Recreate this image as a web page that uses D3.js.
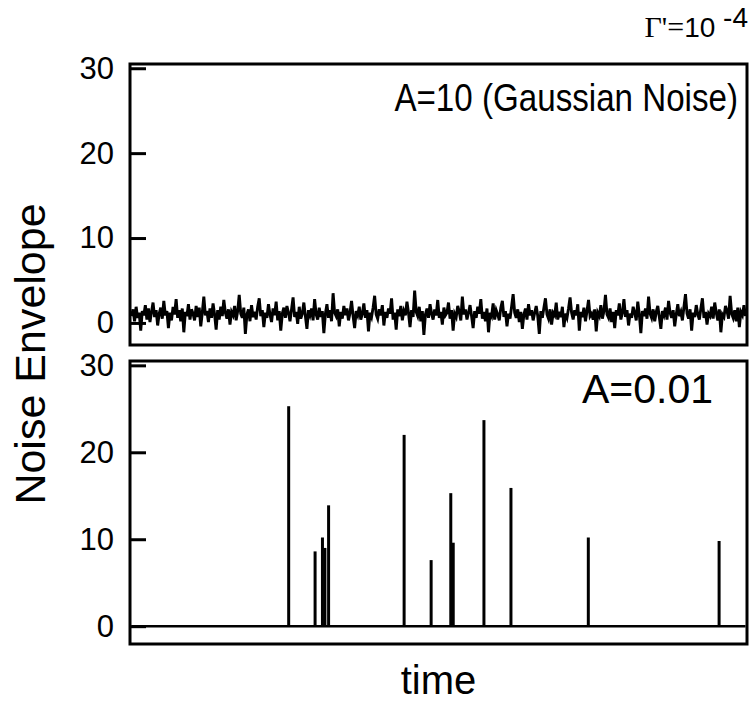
<!DOCTYPE html>
<html>
<head>
<meta charset="utf-8">
<script src="https://cdn.jsdelivr.net/npm/d3@7/dist/d3.min.js"></script>
<style>
  html, body { margin: 0; padding: 0; background: #fff; }
  svg { display: block; }
  text { font-family: "Liberation Sans", Arial, Helvetica, sans-serif; fill: #000; }
</style>
</head>
<body>
<svg id="chart" width="750" height="702"></svg>
<script>
// ---------------- DATA ----------------
const yTicks = [0, 10, 20, 30];

// Top panel: Gaussian-noise envelope trace (A = 10)
const noiseValues = [
  0.8,1.6,0.2,1.9,0.6,1.2,-0.9,1.4,0.9,2.1,0.4,1.7,0.1,1.3,2.4,0.7,1.5,-0.3,1.1,1.8,
  0.5,2.6,0.9,1.4,-0.6,1.2,0.3,1.9,1.0,2.8,0.6,1.5,0.2,1.7,-1.1,1.3,0.8,2.2,0.4,1.6,
  1.1,0.3,2.0,0.7,1.8,-0.4,1.2,3.1,0.9,1.4,0.1,1.7,0.6,2.3,1.0,-0.8,1.5,0.4,1.9,0.8,
  2.7,1.2,0.5,1.6,-0.2,1.3,0.9,2.0,0.3,1.4,3.3,1.1,0.6,1.8,-1.3,1.0,1.6,0.2,2.1,0.7,
  1.3,0.4,1.9,2.9,0.8,1.5,-0.5,1.2,0.6,2.2,1.0,0.1,1.7,0.9,2.5,0.3,1.4,-0.9,1.1,1.8,
  0.6,2.0,1.2,0.2,1.6,3.0,0.7,1.3,-0.1,1.9,0.5,1.1,2.4,0.8,-0.7,1.5,0.9,1.7,0.3,2.8,
  1.0,0.4,1.8,0.7,1.4,-1.2,1.1,2.2,0.6,1.5,0.2,3.5,1.2,0.8,1.6,-0.4,1.3,0.5,2.0,0.9,
  1.7,0.3,1.2,2.6,0.8,-0.6,1.4,0.9,1.9,0.4,1.1,2.3,0.6,1.5,-1.0,1.2,0.7,1.8,3.2,1.0,
  0.5,1.6,0.9,2.1,-0.3,1.3,0.6,1.7,1.1,2.9,0.4,1.2,-0.8,1.6,0.8,2.0,0.3,1.4,0.9,2.5,
  1.2,-0.5,1.5,0.7,3.8,1.3,0.8,1.9,0.2,1.4,-1.4,1.0,1.7,0.6,2.2,1.1,0.4,1.6,0.9,2.7,
  0.6,1.3,-0.2,1.8,0.9,1.2,2.4,0.5,1.5,-0.9,1.1,0.7,2.0,1.3,0.3,3.1,1.0,1.6,0.4,1.2,
  2.1,0.8,-0.6,1.4,0.6,1.9,1.1,2.8,0.5,1.3,0.2,1.7,-1.1,1.2,0.8,2.3,0.4,1.5,1.0,0.3,
  1.8,2.6,0.7,1.4,-0.4,1.1,0.5,1.9,3.4,1.2,0.6,1.6,0.1,1.3,-0.7,1.0,1.7,0.4,2.2,0.9,
  1.5,0.3,1.2,2.0,0.8,-1.3,1.4,0.6,1.8,2.9,1.0,0.5,1.6,-0.2,1.2,0.9,2.4,0.4,1.3,0.7,
  1.9,-0.5,1.1,0.6,1.7,3.0,1.2,0.4,1.5,0.9,2.2,-0.9,1.3,0.7,1.8,0.2,1.4,2.7,0.8,1.1,
  0.4,1.6,-1.0,1.2,0.8,2.1,0.5,1.4,3.3,1.0,0.6,1.7,0.1,1.3,-0.6,1.5,0.9,2.3,0.4,1.2,
  2.8,0.7,1.5,-0.3,1.1,0.6,1.9,1.2,0.3,2.5,1.0,-1.2,1.4,0.8,1.7,0.5,3.1,1.1,0.6,1.6,
  0.2,1.3,2.0,0.7,-0.7,1.4,0.9,1.8,0.4,2.6,1.2,0.6,1.5,-0.4,1.0,2.2,0.8,1.3,0.3,1.9,
  3.4,1.1,0.5,1.6,-0.9,1.2,0.7,2.1,1.0,0.4,1.7,2.9,0.6,1.3,-0.2,1.1,0.8,1.9,0.5,2.4,
  1.2,0.3,1.6,-1.1,1.0,0.7,2.0,1.4,0.5,3.2,1.1,0.6,1.5,0.2,1.8,-0.5,1.3,0.9,2.1,0.8
];

// Bottom panel: burst spikes (A = 0.01), time on a 0..1000 scale
const spikeTimes   = [256, 299, 311, 315, 321, 444, 488, 520, 524, 574, 618, 744, 957];
const spikeHeights = [25.3, 8.6, 10.2, 9.0, 13.9, 22.0, 7.6, 15.3, 9.6, 23.7, 15.9, 10.2, 9.8];
const timeDomain = [0, 1000];

const topLabel = "A=10 (Gaussian Noise)";
const bottomLabel = "A=0.01";
const yTitle = "Noise Envelope";
const xTitle = "time";

// ---------------- LAYOUT ----------------
const svg = d3.select("#chart");
const left = 130, right = 747;
const topPanel = { top: 64, bottom: 345, domain: [-2.6, 30.5] };
const botPanel = { top: 361, bottom: 644, domain: [-2.05, 30.5] };

const xTop = d3.scaleLinear().domain([0, noiseValues.length - 1]).range([left + 1.5, right - 1.5]);
const xBot = d3.scaleLinear().domain(timeDomain).range([left + 1.5, right - 1.5]);
const yTop = d3.scaleLinear().domain(topPanel.domain).range([topPanel.bottom, topPanel.top]);
const yBot = d3.scaleLinear().domain(botPanel.domain).range([botPanel.bottom, botPanel.top]);

function drawAxis(y) {
  const g = svg.append("g").attr("transform", `translate(${left},0)`)
    .call(d3.axisLeft(y).tickValues(yTicks).tickSizeInner(-16).tickSizeOuter(0).tickPadding(16));
  g.select(".domain").remove();
  g.selectAll(".tick line").attr("stroke", "#000").attr("stroke-width", 3);
  g.selectAll(".tick text").attr("font-size", 31)
    .attr("font-family", "'Liberation Sans', Arial, sans-serif").attr("fill", "#000");
}

// ---- Top panel ----
svg.append("path")
  .datum(noiseValues)
  .attr("fill", "none")
  .attr("stroke", "#000")
  .attr("stroke-width", 2.9)
  .attr("stroke-linejoin", "miter")
  .attr("d", d3.line().x((d, i) => xTop(i)).y(d => yTop(d)));

drawAxis(yTop);
svg.append("rect")
  .attr("x", left).attr("y", topPanel.top)
  .attr("width", right - left).attr("height", topPanel.bottom - topPanel.top)
  .attr("fill", "none").attr("stroke", "#000").attr("stroke-width", 3);

svg.append("text").attr("transform", "translate(738,111) scale(0.85,1)")
  .attr("text-anchor", "end").attr("font-size", 39).text(topLabel);

// ---- Bottom panel ----
svg.append("line")
  .attr("x1", xBot(timeDomain[0])).attr("x2", xBot(timeDomain[1]))
  .attr("y1", yBot(0)).attr("y2", yBot(0))
  .attr("stroke", "#000").attr("stroke-width", 2.5);

svg.append("g").selectAll("line")
  .data(spikeTimes.map((t, i) => ({ t, h: spikeHeights[i] })))
  .join("line")
  .attr("x1", d => xBot(d.t)).attr("x2", d => xBot(d.t))
  .attr("y1", yBot(0)).attr("y2", d => yBot(d.h))
  .attr("stroke", "#000").attr("stroke-width", 3);

drawAxis(yBot);
svg.append("rect")
  .attr("x", left).attr("y", botPanel.top)
  .attr("width", right - left).attr("height", botPanel.bottom - botPanel.top)
  .attr("fill", "none").attr("stroke", "#000").attr("stroke-width", 3);

svg.append("text").attr("x", 713).attr("y", 403)
  .attr("text-anchor", "end").attr("font-size", 41).text(bottomLabel);

// ---- Titles ----
svg.append("text")
  .attr("transform", `translate(45,${(topPanel.top + botPanel.bottom) / 2}) rotate(-90)`)
  .attr("text-anchor", "middle").attr("font-size", 43).text(yTitle);

svg.append("text").attr("x", (left + right) / 2).attr("y", 694)
  .attr("text-anchor", "middle").attr("font-size", 40).text(xTitle);

// ---- Parameter label ----
const g = svg.append("text").attr("x", 748).attr("y", 37).attr("text-anchor", "end");
g.append("tspan").attr("font-family", "'Liberation Serif', 'Times New Roman', serif").attr("font-size", 30).text("\u0393'=");
g.append("tspan").attr("font-size", 28).text("10 ");
g.append("tspan").attr("font-size", 28).attr("dy", -10).text("-4");
</script>
</body>
</html>
